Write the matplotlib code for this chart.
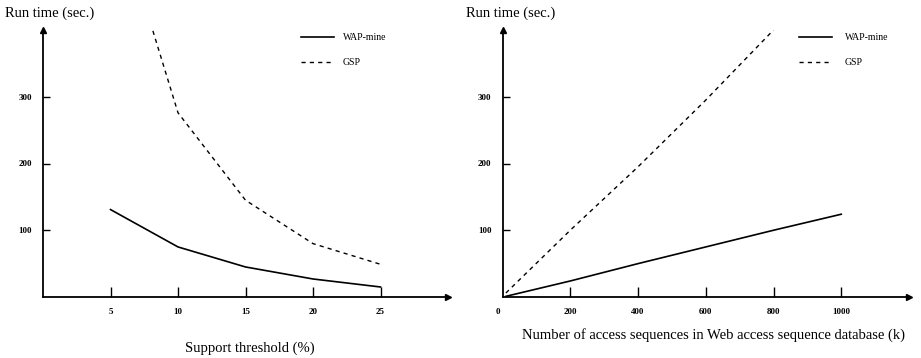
import matplotlib
matplotlib.use("Agg")
import matplotlib.pyplot as plt

plt.rcParams['font.family'] = ['Liberation Serif', 'DejaVu Serif']

# Left: run time vs. support threshold
support = [5, 10, 15, 20, 25]
wap_support = [131, 75, 45, 27, 15]
gsp_support = [606, 276, 145, 80, 49]

# Right: run time vs. database size (k sequences)
db_wap_x = [10, 200, 400, 600, 800, 1000]
db_wap = [1, 24, 50, 75, 100, 124]
db_gsp_x = [10, 200, 400, 600, 800]
db_gsp = [6, 100, 195, 295, 400]

x_ticks_left = [5, 10, 15, 20, 25]
x_ticks_right = [200, 400, 600, 800, 1000]
y_ticks = [100, 200, 300]

fig = plt.figure(figsize=(9.21, 3.58), dpi=100)
ax1 = fig.add_axes([43 / 921, 1 - 297 / 358, 405 / 921, 267 / 358])
ax2 = fig.add_axes([502.5 / 921, 1 - 297 / 358, 406.5 / 921, 267 / 358])


def style_axes(ax, xmax, xticks):
    ax.set_xlim(0, xmax)
    ax.set_ylim(0, 400)
    for s in ('top', 'right'):
        ax.spines[s].set_visible(False)
    for s in ('left', 'bottom'):
        ax.spines[s].set_linewidth(1.3)
    ax.set_xticks(xticks)
    ax.set_yticks(y_ticks)
    ax.tick_params(axis='x', direction='in', length=7, width=1.0, pad=8,
                   labelsize=6.5)
    ax.tick_params(axis='y', direction='in', length=5, width=1.0, pad=8,
                   labelsize=6.5)
    for lab in ax.get_xticklabels() + ax.get_yticklabels():
        lab.set_fontweight('bold')
    # arrow heads on the axes
    ax.plot(1, 0, '>k', ms=4, transform=ax.transAxes, clip_on=False)
    ax.plot(0, 1, '^k', ms=4, transform=ax.transAxes, clip_on=False)


style_axes(ax1, 30, x_ticks_left)
style_axes(ax2, 1200, x_ticks_right)

ax1.plot(support, wap_support, color='black', lw=1.2, label='WAP-mine')
ax1.plot(support, gsp_support, color='black', lw=1.0, ls=(0, (3, 3)),
         label='GSP')

ax2.plot(db_wap_x, db_wap, color='black', lw=1.2, label='WAP-mine')
ax2.plot(db_gsp_x, db_gsp, color='black', lw=1.0, ls=(0, (3, 3)),
         label='GSP')
ax2.text(-15, -22, '0', fontsize=6.5, fontweight='bold', ha='center',
         va='center', transform=ax2.transData)

for ax, xa, pad in ((ax1, 0.637, 0.9), (ax2, 0.729, 1.35)):
    ax.legend(loc='upper left', bbox_to_anchor=(xa, 0.989),
              frameon=False, fontsize=7, handlelength=3.4,
              handletextpad=pad, labelspacing=1.65, borderpad=0,
              borderaxespad=0)

fig.text(5 / 921, 1 - 13 / 358, 'Run time (sec.)', fontsize=10.5,
         ha='left', va='center')
fig.text(466 / 921, 1 - 13 / 358, 'Run time (sec.)', fontsize=10.5,
         ha='left', va='center')
fig.text(250 / 921, 1 - 348 / 358, 'Support threshold (%)', fontsize=10.5,
         ha='center', va='center')
fig.text(713 / 921, 1 - 335 / 358,
         'Number of access sequences in Web access sequence database (k)',
         fontsize=10.5, ha='center', va='center')

fig.savefig('out.png', dpi=100)
